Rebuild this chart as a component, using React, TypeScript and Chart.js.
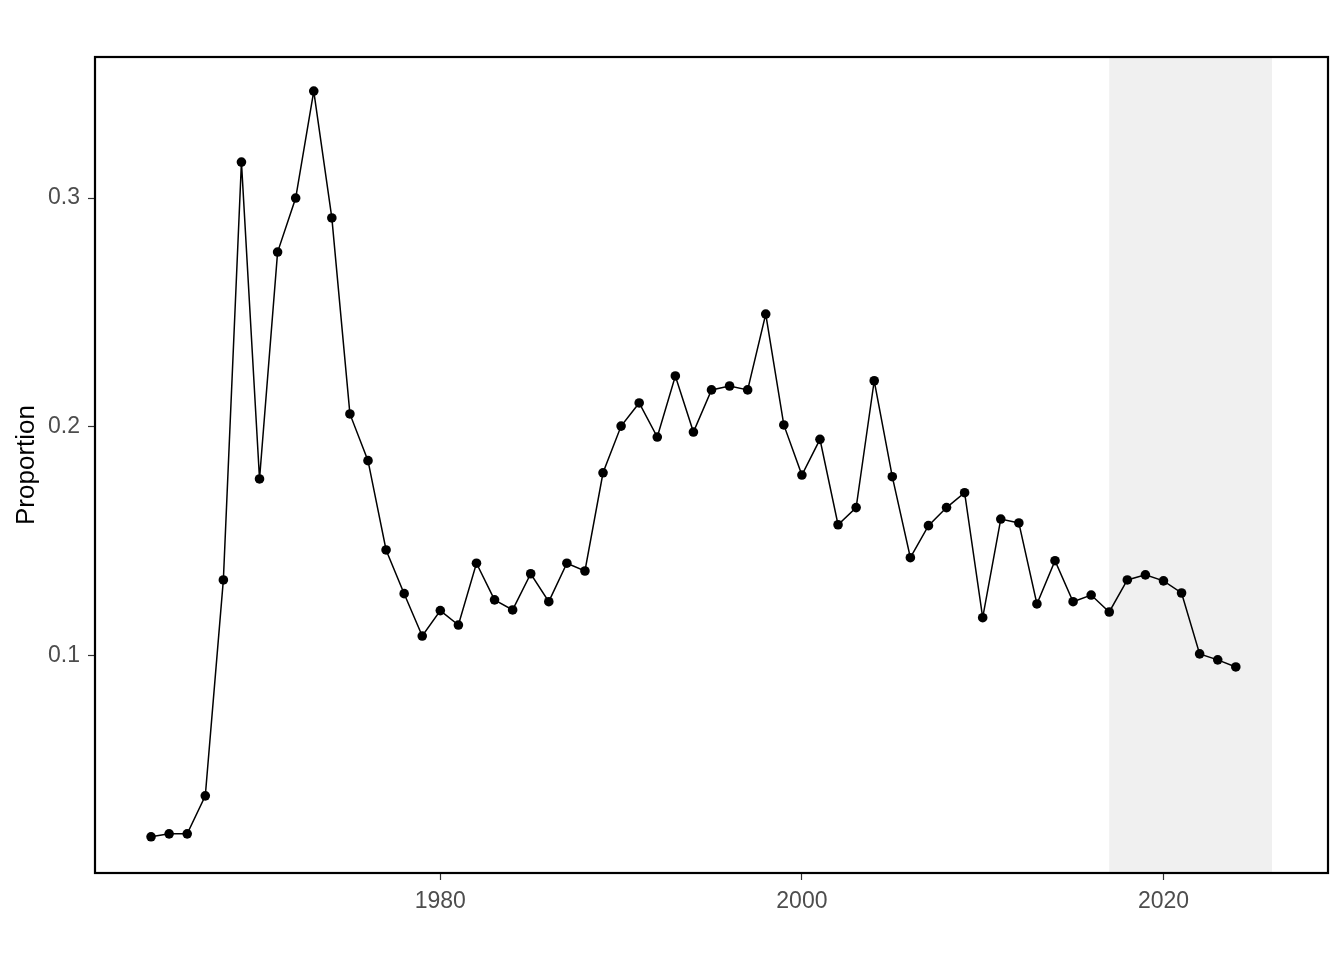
import React, { useEffect, useRef } from "react";
import { Chart, registerables } from "chart.js";

Chart.register(...registerables);

const years: number[] = [
  1964, 1965, 1966, 1967, 1968, 1969, 1970, 1971, 1972, 1973,
  1974, 1975, 1976, 1977, 1978, 1979, 1980, 1981, 1982, 1983,
  1984, 1985, 1986, 1987, 1988, 1989, 1990, 1991, 1992, 1993,
  1994, 1995, 1996, 1997, 1998, 1999, 2000, 2001, 2002, 2003,
  2004, 2005, 2006, 2007, 2008, 2009, 2010, 2011, 2012, 2013,
  2014, 2015, 2016, 2017, 2018, 2019, 2020, 2021, 2022, 2023,
  2024,
];

const proportion: number[] = [
  0.021, 0.0223, 0.0223, 0.0389, 0.1332, 0.3157, 0.1773, 0.2764, 0.3, 0.3467,
  0.2913, 0.2057, 0.1853, 0.1463, 0.1272, 0.1087, 0.1198, 0.1135, 0.1405, 0.1245,
  0.1201, 0.1359, 0.1237, 0.1405, 0.1371, 0.18, 0.2004, 0.2105, 0.1956, 0.2223,
  0.1978, 0.2162, 0.2179, 0.2162, 0.2493, 0.2009, 0.179, 0.1946, 0.1573, 0.1648,
  0.2202, 0.1783, 0.1429, 0.1569, 0.1648, 0.1713, 0.1167, 0.1598, 0.1581, 0.1227,
  0.1416, 0.1237, 0.1266, 0.1192, 0.1332, 0.1354, 0.1328, 0.1275, 0.1009, 0.0983,
  0.0952,
];

const shadeStart = 2017;
const shadeEnd = 2026;

const xTicks: number[] = [1980, 2000, 2020];
const yTicks: number[] = [0.1, 0.2, 0.3];
const yTitle = "Proportion";

const FONT = "'Liberation Sans', Arial, sans-serif";

export default function App() {
  const ref = useRef<HTMLCanvasElement | null>(null);

  useEffect(() => {
    if (!ref.current) return;

    const shadePlugin = {
      id: "shade",
      beforeDatasetsDraw(chart: any) {
        const { ctx, chartArea, scales } = chart;
        const x0 = scales.x.getPixelForValue(shadeStart);
        const x1 = scales.x.getPixelForValue(shadeEnd);
        ctx.save();
        ctx.fillStyle = "#F0F0F0";
        ctx.fillRect(x0, chartArea.top, x1 - x0, chartArea.bottom - chartArea.top);
        ctx.restore();
      },
      afterDraw(chart: any) {
        const { ctx, chartArea } = chart;
        ctx.save();
        ctx.strokeStyle = "#000000";
        ctx.lineWidth = 2.2;
        ctx.strokeRect(
          chartArea.left,
          chartArea.top,
          chartArea.right - chartArea.left,
          chartArea.bottom - chartArea.top
        );
        ctx.fillStyle = "#000000";
        ctx.font = `26px ${FONT}`;
        ctx.textAlign = "center";
        ctx.textBaseline = "middle";
        ctx.translate(27, (chartArea.top + chartArea.bottom) / 2);
        ctx.rotate(-Math.PI / 2);
        ctx.fillText(yTitle, 0, 0);
        ctx.restore();
      },
    };

    const chart = new Chart(ref.current, {
      type: "line",
      data: {
        datasets: [
          {
            data: years.map((y, i) => ({ x: y, y: proportion[i] })),
            borderColor: "#000000",
            backgroundColor: "#000000",
            borderWidth: 1.5,
            pointRadius: 4.8,
            pointBorderWidth: 0,
            pointBackgroundColor: "#000000",
            tension: 0,
            fill: false,
          },
        ],
      },
      options: {
        responsive: false,
        animation: false,
        events: [],
        layout: { padding: { top: 57, right: 16, left: 0, bottom: 0 } },
        plugins: {
          legend: { display: false },
          tooltip: { enabled: false },
        },
        scales: {
          x: {
            type: "linear",
            min: 1960.9,
            max: 2029.1,
            afterBuildTicks: (scale: any) => {
              scale.ticks = xTicks.map((v) => ({ value: v }));
            },
            afterFit: (scale: any) => {
              scale.height = 87;
            },
            grid: {
              display: true,
              drawOnChartArea: false,
              drawTicks: true,
              tickLength: 7,
              tickWidth: 1.2,
              tickColor: "#333333",
            },
            border: { display: false },
            ticks: {
              padding: 8,
              color: "#4D4D4D",
              font: { family: FONT, size: 23 },
              maxRotation: 0,
              callback: (v: any) => String(v),
            },
          },
          y: {
            type: "linear",
            min: 0.0052,
            max: 0.3616,
            afterBuildTicks: (scale: any) => {
              scale.ticks = yTicks.map((v) => ({ value: v }));
            },
            afterFit: (scale: any) => {
              scale.width = 95;
            },
            grid: {
              display: true,
              drawOnChartArea: false,
              drawTicks: true,
              tickLength: 7,
              tickWidth: 1.2,
              tickColor: "#333333",
            },
            border: { display: false },
            ticks: {
              padding: 8,
              color: "#4D4D4D",
              font: { family: FONT, size: 23 },
              callback: (v: any) => Number(v).toFixed(1),
            },
          },
        },
      },
      plugins: [shadePlugin],
    } as any);

    return () => chart.destroy();
  }, []);

  return (
    <div style={{ position: "absolute", left: 0, top: 0, width: 1344, height: 960, background: "#ffffff" }}>
      <canvas ref={ref} width={1344} height={960} style={{ display: "block" }} />
    </div>
  );
}
